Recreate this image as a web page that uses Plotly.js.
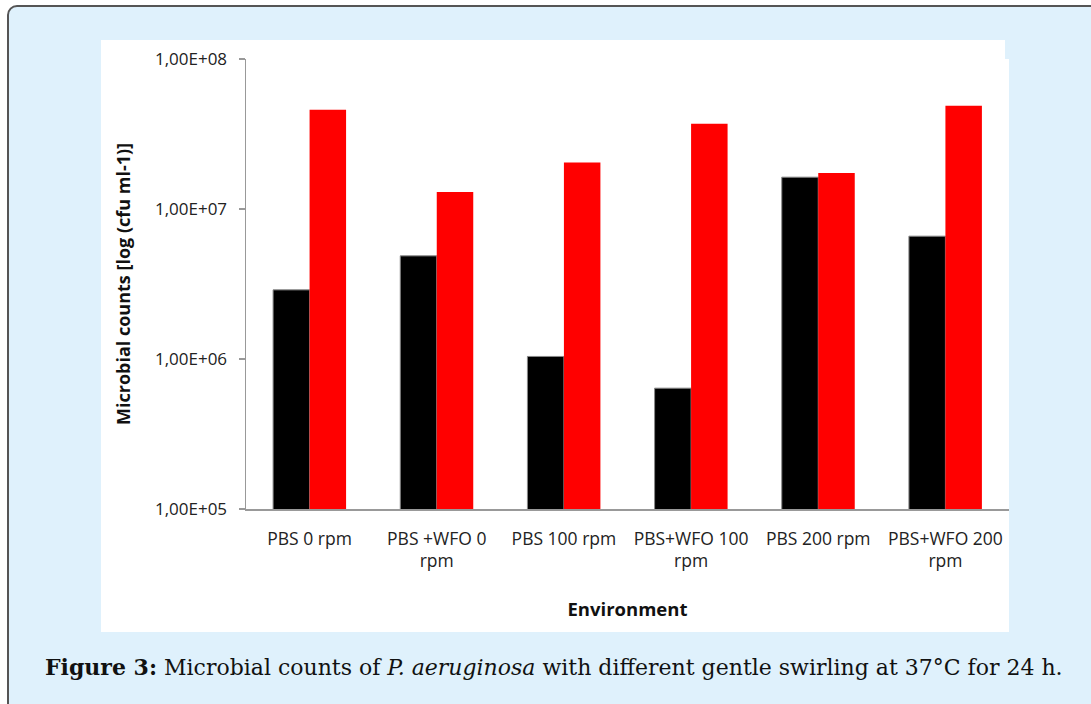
<!DOCTYPE html>
<html>
<head>
<meta charset="utf-8">
<script src="https://cdn.plot.ly/plotly-3.0.1.min.js"></script>
<style>
  html, body { margin: 0; padding: 0; background: #ffffff; }
  #wrap { position: relative; width: 1091px; height: 704px; overflow: hidden; }
  #frame { position: absolute; left: 7px; top: 5px; width: 1200px; height: 800px;
           background: #dff1fc; border: 2px solid #555; border-radius: 10px; box-sizing: border-box; }
  #panel1 { position: absolute; left: 101px; top: 40px; width: 904px; height: 592px; background: #fff; }
  #panel2 { position: absolute; left: 1005px; top: 59px; width: 4px; height: 573px; background: #fff; }
  #chart { position: absolute; left: 0; top: 0; width: 1091px; height: 704px; }
</style>
</head>
<body>
<div id="wrap">
  <div id="frame"></div>
  <div id="panel1"></div>
  <div id="panel2"></div>
  <div id="chart"></div>
</div>
<script>
const categories = ["PBS 0 rpm", "PBS +WFO 0<br>rpm", "PBS 100 rpm", "PBS+WFO 100<br>rpm", "PBS 200 rpm", "PBS+WFO 200<br>rpm"];
const seriesBlack = [2.89e6, 4.87e6, 1.04e6, 6.39e5, 1.63e7, 6.59e6];
const seriesRed = [4.59e7, 1.30e7, 2.04e7, 3.70e7, 1.74e7, 4.88e7];
const yTickVals = [1e5, 1e6, 1e7, 1e8];
const yTickText = ["1,00E+05", "1,00E+06", "1,00E+07", "1,00E+08"];

const traces = [
  { type: "bar", x: categories, y: seriesBlack, name: "black",
    marker: { color: "#000000", line: { color: "#888888", width: 1 } }, hoverinfo: "skip" },
  { type: "bar", x: categories, y: seriesRed, name: "red",
    marker: { color: "#ff0000", line: { width: 0 } }, hoverinfo: "skip" }
];

const layout = {
  width: 1091, height: 704,
  margin: { l: 246, r: 82, t: 59, b: 195, pad: 0 },
  paper_bgcolor: "rgba(0,0,0,0)", plot_bgcolor: "rgba(0,0,0,0)",
  barmode: "group", bargap: 0.426, bargroupgap: 0,
  showlegend: false,
  font: { family: "Open Sans, sans-serif", color: "#222" },
  xaxis: {
    type: "category", showgrid: false, zeroline: false,
    showline: true, linecolor: "#999", linewidth: 1.5,
    ticks: "", tickfont: { size: 17.5, color: "#222" }, ticklabelstandoff: 13,
    title: { text: "<b>Environment</b>", font: { size: 18.5, color: "#111" }, standoff: 32 }
  },
  yaxis: {
    type: "log", range: [5, 8], showgrid: false, zeroline: false,
    showline: true, linecolor: "#999", linewidth: 1.5,
    ticks: "outside", ticklen: 6, tickcolor: "#999", tickwidth: 1.5,
    tickvals: yTickVals, ticktext: yTickText, ticklabelstandoff: 8,
    tickfont: { size: 17, color: "#222" },
    title: { text: "<b>Microbial counts [log (cfu ml-1)]</b>", font: { size: 18, color: "#111" }, standoff: 19 }
  },
  annotations: [
    { xref: "paper", yref: "paper", x: (554 - 246) / 763, y: (509 - 667) / 450,
      xanchor: "center", yanchor: "middle", showarrow: false,
      text: "<b>Figure 3:</b> Microbial counts of <i>P. aeruginosa</i> with different gentle swirling at 37°C for 24 h.",
      font: { family: "DejaVu Serif, serif", size: 22, color: "#111" } }
  ]
};

Plotly.newPlot("chart", traces, layout, { displayModeBar: false, staticPlot: true });
</script>
</body>
</html>
